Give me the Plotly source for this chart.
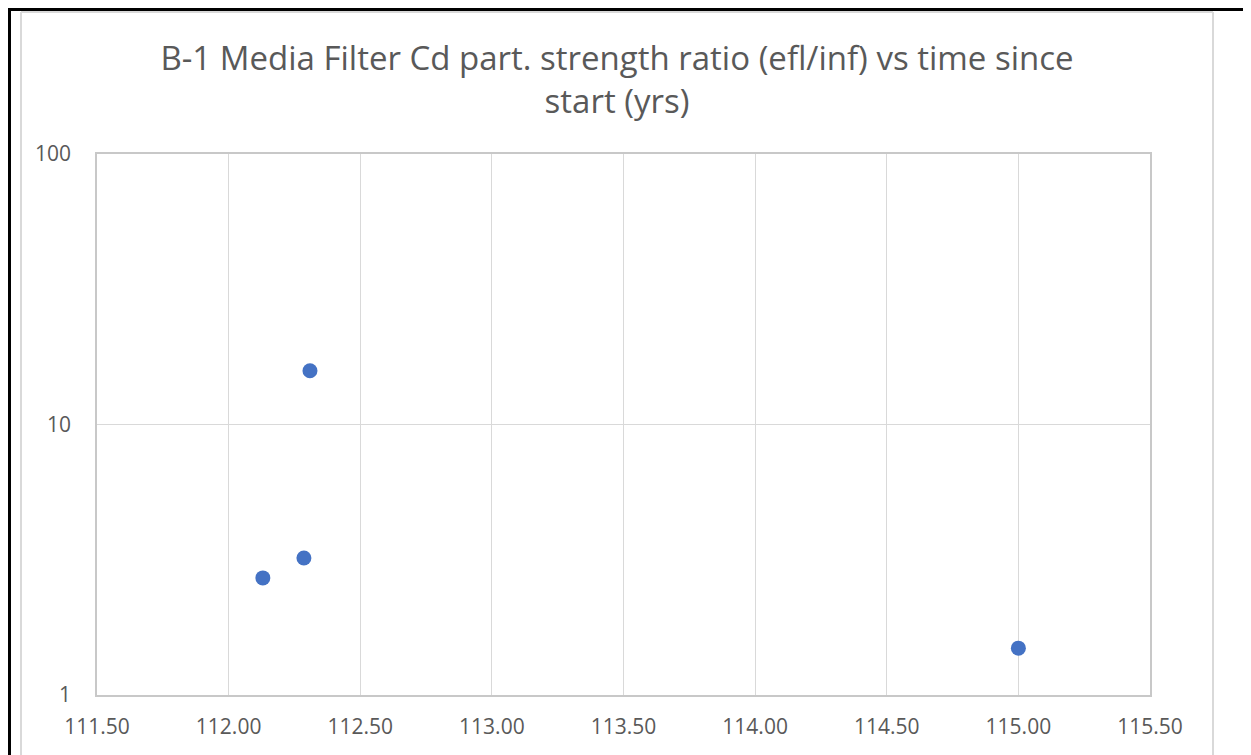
import plotly.graph_objects as go

# Data
years = [112.13, 112.286, 112.309, 115.0]
ratio = [2.71, 3.21, 15.8, 1.49]
x_ticks = [111.5, 112.0, 112.5, 113.0, 113.5, 114.0, 114.5, 115.0, 115.5]
x_tick_labels = ["111.50", "112.00", "112.50", "113.00", "113.50", "114.00", "114.50", "115.00", "115.50"]
y_ticks = [1, 10, 100]
y_tick_labels = ["1", "10", "100"]
title_text = "B-1 Media Filter Cd part. strength ratio (efl/inf) vs time since<br>start (yrs)"

OFF = 8  # page body margin
W, H = 1251 - OFF, 755 - OFF
# plot area in screen pixels
SL, SR, ST, SB = 97, 1150, 154, 695
L, R, T, B = SL - OFF, SR - OFF, ST - OFF, SB - OFF

def px(x):
    return (x - OFF - L) / (R - L)

def py(y):
    return (B - (y - OFF)) / (B - T)

fig = go.Figure()
fig.add_trace(go.Scatter(
    x=years, y=ratio, mode="markers",
    marker=dict(color="#4472C4", size=15, line=dict(width=0)),
    showlegend=False,
))

font_family = "Open Sans, Liberation Sans, sans-serif"

fig.update_layout(
    width=W, height=H,
    margin=dict(l=L, r=W - R, t=T, b=H - B, pad=0),
    paper_bgcolor="white", plot_bgcolor="white",
    title=dict(text=title_text, x=(617 - OFF) / W, xanchor="center",
               y=1 - (70 - OFF) / H, yanchor="middle",
               font=dict(family=font_family, size=33, color="#595959")),
    font=dict(family=font_family, color="#595959", size=21),
    xaxis=dict(range=[111.5, 115.5], tickvals=x_ticks, ticktext=x_tick_labels,
               showgrid=True, gridcolor="#D9D9D9", gridwidth=1.3,
               showline=True, linecolor="#C8C8C8", linewidth=1.5, mirror=True,
               zeroline=False, ticks="", ticklabelstandoff=12,
               tickfont=dict(size=21, color="#595959")),
    yaxis=dict(type="log", range=[0, 2], tickvals=y_ticks, ticktext=y_tick_labels,
               showgrid=True, gridcolor="#D9D9D9", gridwidth=1.3,
               showline=True, linecolor="#C8C8C8", linewidth=1.5, mirror=True,
               zeroline=False, ticks="", ticklabelstandoff=20,
               tickfont=dict(size=21, color="#595959")),
    shapes=[
        # chart area gray border
        dict(type="line", xref="paper", yref="paper", x0=px(21), x1=px(21), y0=py(12), y1=py(760),
             line=dict(color="#D9D9D9", width=2)),
        dict(type="line", xref="paper", yref="paper", x0=px(21), x1=px(1213), y0=py(12), y1=py(12),
             line=dict(color="#D9D9D9", width=2)),
        dict(type="line", xref="paper", yref="paper", x0=px(1213), x1=px(1213), y0=py(12), y1=py(760),
             line=dict(color="#D9D9D9", width=2)),
        # outer black border (left and top)
        dict(type="line", xref="paper", yref="paper", x0=px(9.5), x1=px(9.5), y0=py(8), y1=py(760),
             line=dict(color="black", width=3)),
        dict(type="line", xref="paper", yref="paper", x0=px(8), x1=px(1260), y0=py(9.5), y1=py(9.5),
             line=dict(color="black", width=3)),
    ],
)

fig.write_html("out.html")
